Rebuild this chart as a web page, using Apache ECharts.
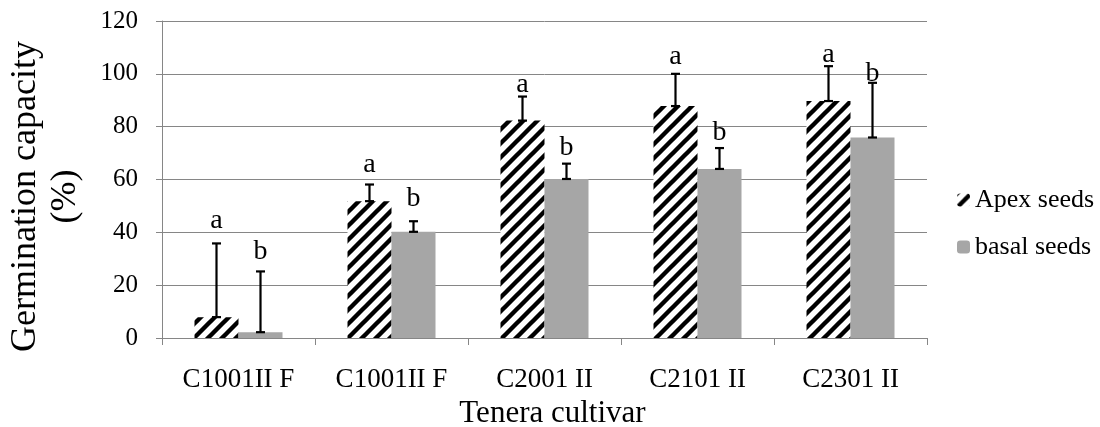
<!DOCTYPE html>
<html>
<head>
<meta charset="utf-8">
<script src="https://cdn.jsdelivr.net/npm/echarts@6/dist/echarts.min.js"></script>
<style>
  html, body { margin: 0; padding: 0; background: #fff; }
  #germ-chart { width: 1100px; height: 427px; }
</style>
</head>
<body>
<div id="germ-chart"></div>
<script>
// values
const categories = ["C1001II F", "C1001II F", "C2001 II", "C2101 II", "C2301 II"];
const apexValues = [7.9, 51.8, 82.3, 87.8, 89.7];
const basalValues = [2.2, 40.2, 60.2, 64, 75.9];
const apexErrTop = [35.8, 58.1, 91.4, 100, 102.9];
const basalErrTop = [25.2, 44.2, 66, 71.9, 96.6];
const apexLetters = ["a", "a", "a", "a", "a"];
const basalLetters = ["b", "b", "b", "b", "b"];
const apexLetterY = [44.6, 65.6, 95.8, 106.6, 107.3];
const basalLetterY = [32.7, 52.7, 71.9, 77.8, 100.2];
const yTicks = { min: 0, max: 120, interval: 20 };

const FONT = '"Liberation Serif", "Times New Roman", serif';
const GRID = "#868686";
const GRAY = "#a6a6a6";
const BAR_W = 44;

// wide upward diagonal hatch, like the Excel fill
function hatch() {
  let s = 14;
  let c = document.createElement("canvas");
  c.width = s;
  c.height = s;
  let ctx = c.getContext("2d");
  ctx.fillStyle = "#fff";
  ctx.fillRect(0, 0, s, s);
  ctx.strokeStyle = "#000";
  ctx.lineWidth = 4.4;
  ctx.beginPath();
  ctx.moveTo(0, s); ctx.lineTo(s, 0);
  ctx.moveTo(-s / 2, s / 2); ctx.lineTo(s / 2, -s / 2);
  ctx.moveTo(s / 2, s * 1.5); ctx.lineTo(s * 1.5, s / 2);
  ctx.stroke();
  return c;
}

function errSeries(name, vals, tops, letters, letterY, offset) {
  return {
    name: name,
    type: "custom",
    z: 5,
    silent: true,
    encode: { x: 0, y: [1, 2, 3] },
    data: vals.map((v, i) => [i, v, tops[i], letterY[i]]),
    renderItem: function(params, api) {
      let i = api.value(0);
      let p0 = api.coord([i, api.value(1)]);
      let p1 = api.coord([i, api.value(2)]);
      let pl = api.coord([i, api.value(3)]);
      let x = p0[0] + offset;
      let cap = 4.5;
      let st = { stroke: "#000", lineWidth: 2.2 };
      return {
        type: "group",
        children: [
          { type: "line", shape: { x1: x, y1: p0[1], x2: x, y2: p1[1] }, style: st },
          { type: "line", shape: { x1: x - cap, y1: p1[1], x2: x + cap, y2: p1[1] }, style: st },
          { type: "line", shape: { x1: x - cap, y1: p0[1], x2: x + cap, y2: p0[1] }, style: st },
          {
            type: "text",
            style: {
              text: letters[params.dataIndex],
              x: x,
              y: pl[1],
              align: "center",
              verticalAlign: "middle",
              font: "28px " + FONT,
              fill: "#000"
            }
          }
        ]
      };
    }
  };
}

let el = document.getElementById("germ-chart");
let chart = echarts.init(el);
let option = {
  animation: false,
  backgroundColor: "#fff",
  textStyle: { fontFamily: FONT, color: "#000" },
  grid: { left: 162, right: 173, top: 21, bottom: 89, containLabel: false, outerBoundsMode: "none" },
  legend: {
    data: ["Apex seeds", "basal seeds"],
    orient: "vertical",
    left: 957,
    top: 187,
    padding: 0,
    itemWidth: 13,
    itemHeight: 13,
    itemGap: 21,
    textStyle: { fontFamily: FONT, fontSize: 26, color: "#000", padding: [0, 0, 0, 0] }
  },
  xAxis: {
    type: "category",
    data: categories,
    name: "Tenera cultivar",
    nameLocation: "middle",
    nameGap: 58,
    nameTextStyle: { fontFamily: FONT, fontSize: 31, color: "#000", padding: [0, 0, 0, 16] },
    axisLine: { lineStyle: { color: GRID, width: 1 } },
    axisTick: { show: true, length: 7, lineStyle: { color: GRID } },
    axisLabel: { margin: 28, fontFamily: FONT, fontSize: 27, color: "#000" },
    splitLine: { show: false }
  },
  yAxis: {
    type: "value",
    min: yTicks.min,
    max: yTicks.max,
    interval: yTicks.interval,
    name: "Germination capacity\n(%)",
    nameLocation: "middle",
    nameRotate: 90,
    nameGap: 76,
    nameTextStyle: { fontFamily: FONT, fontSize: 36, color: "#000", lineHeight: 40, padding: [0, 34, 0, 0] },
    axisLine: { show: true, lineStyle: { color: GRID, width: 1 } },
    axisTick: { show: true, length: 6, lineStyle: { color: GRID } },
    axisLabel: { margin: 24, fontFamily: FONT, fontSize: 25, color: "#000" },
    splitLine: { show: true, lineStyle: { color: GRID, width: 1 } }
  },
  series: [
    {
      name: "Apex seeds",
      type: "bar",
      barWidth: BAR_W,
      barGap: "0%",
      data: apexValues,
      itemStyle: { color: { image: hatch(), repeat: "repeat" } }
    },
    {
      name: "basal seeds",
      type: "bar",
      barWidth: BAR_W,
      barGap: "0%",
      data: basalValues,
      itemStyle: { color: GRAY }
    },
    errSeries("apexErr", apexValues, apexErrTop, apexLetters, apexLetterY, -BAR_W / 2),
    errSeries("basalErr", basalValues, basalErrTop, basalLetters, basalLetterY, BAR_W / 2)
  ]
};
chart.setOption(option);
</script>
</body>
</html>
